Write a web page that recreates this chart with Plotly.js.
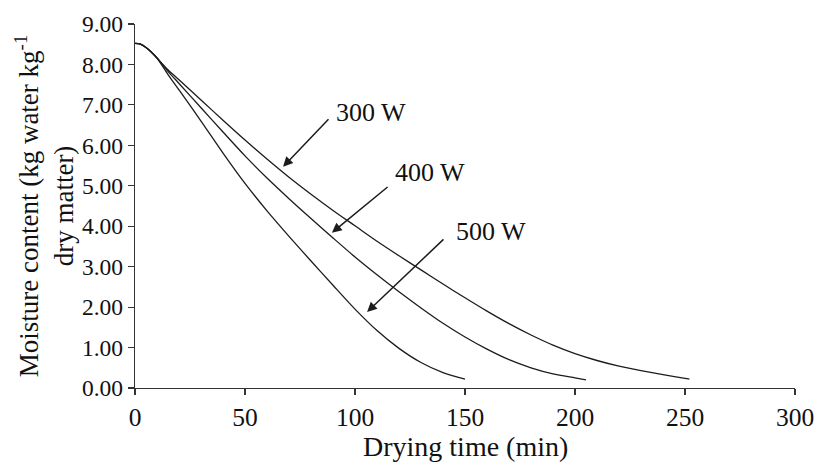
<!DOCTYPE html>
<html>
<head>
<meta charset="utf-8">
<script src="https://cdn.plot.ly/plotly-3.0.1.min.js"></script>
<style>
  html, body { margin: 0; padding: 0; background: #ffffff; }
  #chart { width: 822px; height: 462px; }
</style>
</head>
<body>
<div id="chart"></div>
<script>
// Drying curves: moisture content vs drying time at three microwave powers
const time300 = [0, 2.5, 5, 7.5, 10, 15, 20, 30, 40, 50, 60, 70, 80, 90, 100, 110, 120, 130, 140, 150, 160, 170, 180, 190, 200, 210, 220, 230, 240, 250, 252];
const moist300 = [8.52, 8.50, 8.42, 8.30, 8.16, 7.87, 7.62, 7.12, 6.62, 6.13, 5.66, 5.21, 4.79, 4.39, 4.01, 3.63, 3.27, 2.92, 2.57, 2.23, 1.90, 1.59, 1.31, 1.06, 0.85, 0.68, 0.54, 0.43, 0.33, 0.24, 0.22];

const time400 = [0, 2.5, 5, 7.5, 10, 15, 20, 30, 40, 50, 60, 70, 80, 90, 100, 110, 120, 130, 140, 150, 160, 170, 180, 190, 200, 205];
const moist400 = [8.52, 8.50, 8.42, 8.30, 8.16, 7.83, 7.53, 6.93, 6.33, 5.74, 5.19, 4.68, 4.19, 3.71, 3.24, 2.80, 2.38, 1.98, 1.60, 1.26, 0.96, 0.70, 0.50, 0.35, 0.25, 0.20];

const time500 = [0, 2.5, 5, 7.5, 10, 15, 20, 30, 40, 50, 60, 70, 80, 90, 100, 110, 120, 130, 140, 150];
const moist500 = [8.52, 8.50, 8.42, 8.30, 8.16, 7.75, 7.37, 6.60, 5.81, 5.06, 4.38, 3.75, 3.14, 2.54, 1.95, 1.42, 0.98, 0.63, 0.38, 0.22];

const powerLabels = ['300 W', '400 W', '500 W'];
const xTicks = [0, 50, 100, 150, 200, 250, 300];
const yTicks = [0, 1, 2, 3, 4, 5, 6, 7, 8, 9];
const xTitle = 'Drying time (min)';
const yTitle = 'Moisture content (kg water kg<sup>-1</sup><br>dry matter)';

const serif = 'Liberation Serif, Times New Roman, serif';
const lineStyle = { color: '#1c1c1c', width: 1.3, shape: 'spline', smoothing: 0.8 };

const traces = [
  { x: time300, y: moist300, name: powerLabels[0] },
  { x: time400, y: moist400, name: powerLabels[1] },
  { x: time500, y: moist500, name: powerLabels[2] }
].map(t => Object.assign(t, { type: 'scatter', mode: 'lines', line: lineStyle, hoverinfo: 'x+y' }));

// Label text plus a separate pointer arrow for each curve
function label(text, x, y) {
  return { text: text, x: x, y: y, xref: 'x', yref: 'y', showarrow: false,
           font: { family: serif, size: 26, color: '#111' } };
}
function pointer(hx, hy, tx, ty) {
  return { text: '', x: hx, y: hy, ax: tx, ay: ty, xref: 'x', yref: 'y', axref: 'x', ayref: 'y',
           showarrow: true, arrowhead: 2, arrowsize: 1.3, arrowwidth: 1.5, arrowcolor: '#1c1c1c' };
}

const layout = {
  width: 822, height: 462,
  margin: { l: 135, r: 27, t: 24, b: 74 },
  paper_bgcolor: '#ffffff', plot_bgcolor: '#ffffff',
  showlegend: false,
  font: { family: serif, color: '#111' },
  xaxis: {
    range: [0, 300], tickvals: xTicks, ticktext: xTicks.map(String),
    showgrid: false, zeroline: false, showline: true, linecolor: '#333', linewidth: 1.2,
    ticks: 'outside', ticklen: 6, tickcolor: '#333', tickwidth: 1.2,
    tickfont: { family: serif, size: 25.5, color: '#111' }
  },
  yaxis: {
    range: [0, 9], tickvals: yTicks, ticktext: yTicks.map(v => v.toFixed(2)),
    showgrid: false, zeroline: false, showline: true, linecolor: '#333', linewidth: 1.2,
    ticks: 'outside', ticklen: 6, tickcolor: '#333', tickwidth: 1.2,
    tickfont: { family: serif, size: 23.5, color: '#111' },
    title: { text: yTitle, font: { family: serif, size: 27, color: '#111' }, standoff: 0 }
  },
  annotations: [
    // x-axis title, placed just under the tick labels
    { text: xTitle, xref: 'paper', yref: 'paper', x: 0.5, y: -0.161, yanchor: 'middle',
      showarrow: false, font: { family: serif, size: 28, color: '#111' } },
    label(powerLabels[0], 107.3, 6.82),
    pointer(67.3, 5.47, 88.6, 6.68),
    label(powerLabels[1], 133.9, 5.32),
    pointer(89.5, 3.84, 115.5, 5.0),
    label(powerLabels[2], 161.6, 3.87),
    pointer(105.5, 1.88, 140.9, 3.71)
  ]
};

Plotly.newPlot('chart', traces, layout, { displayModeBar: false, staticPlot: true });
</script>
</body>
</html>
